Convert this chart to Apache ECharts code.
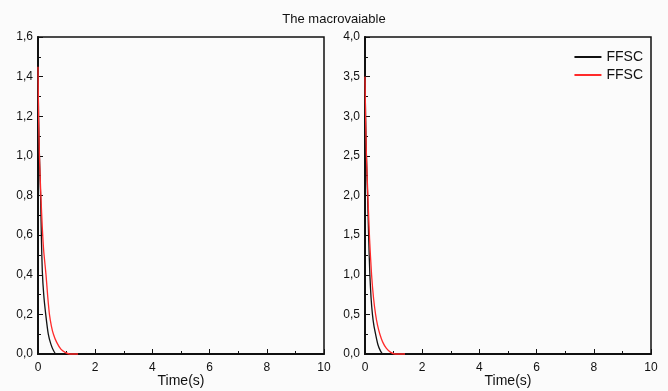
<!DOCTYPE html>
<html><head><meta charset="utf-8">
<script src="https://cdn.jsdelivr.net/npm/echarts@6/dist/echarts.min.js"></script>
<style>html,body{margin:0;padding:0;background:#fbfbfb}#c{width:668px;height:391px}</style>
</head><body><div id="c"></div>
<script>
var titleText = 'The macrovaiable';
var legendNames = ['FFSC', 'FFSC'];
var xLabelName = 'Time(s)';
// Left panel
var leftBlackT = [0, 0.02, 0.05, 0.09, 0.12, 0.15, 0.2, 0.27, 0.36, 0.45, 0.55, 0.63, 10];
var leftBlackV = [1.45, 1.2, 1.0, 0.8, 0.58, 0.42, 0.3, 0.2, 0.1, 0.05, 0.015, 0, 0];
var leftRedT = [0, 0.02, 0.05, 0.1, 0.15, 0.2, 0.28, 0.34, 0.4, 0.47, 0.54, 0.65, 0.8, 0.95, 1.1, 1.4];
var leftRedV = [1.45, 1.2, 1.0, 0.8, 0.64, 0.52, 0.4, 0.29, 0.2, 0.14, 0.1, 0.06, 0.025, 0.008, 0, 0];
// Right panel
var rightBlackT = [0, 0.02, 0.05, 0.09, 0.13, 0.17, 0.21, 0.26, 0.31, 0.37, 0.45, 0.54, 0.63, 10];
var rightBlackV = [3.5, 3.0, 2.5, 2.0, 1.45, 1.0, 0.72, 0.5, 0.36, 0.25, 0.12, 0.04, 0, 0];
var rightRedT = [0, 0.02, 0.05, 0.1, 0.16, 0.23, 0.3, 0.37, 0.44, 0.52, 0.62, 0.75, 0.9, 1.05, 1.4];
var rightRedV = [3.5, 3.0, 2.5, 2.0, 1.45, 1.0, 0.7, 0.5, 0.36, 0.25, 0.15, 0.07, 0.02, 0, 0];

function pairs(t, v) { return t.map(function (x, i) { return [x, v[i]]; }); }
function fmt(v) { return v.toFixed(1).replace('.', ','); }

var axisText = { color: '#111', fontFamily: 'Liberation Sans, Arial', fontSize: 12 };
function xAx(idx) {
  return {
    type: 'value', gridIndex: idx, min: 0, max: 10, interval: 2,
    name: xLabelName, nameLocation: 'middle', nameGap: 20, nameMoveOverlap: false,
    nameTextStyle: { color: '#111', fontFamily: 'Liberation Sans, Arial', fontSize: 14 },
    axisLine: { show: true, lineStyle: { color: '#111', width: 2 } },
    axisTick: { show: true, inside: true, length: 5, lineStyle: { color: '#111', width: 1 } },
    minorTick: { show: true, splitNumber: 2, length: 3, lineStyle: { color: '#111', width: 1 } },
    axisLabel: Object.assign({ margin: 8, formatter: function (v) { return String(v); } }, axisText),
    splitLine: { show: false }
  };
}
function yAx(idx, max, interval, minorSplit) {
  return {
    type: 'value', gridIndex: idx, min: 0, max: max, interval: interval,
    axisLine: { show: true, lineStyle: { color: '#111', width: 2 } },
    axisTick: { show: true, inside: true, length: 5, lineStyle: { color: '#111', width: 1 } },
    minorTick: { show: true, splitNumber: minorSplit, length: 3, lineStyle: { color: '#111', width: 1 } },
    axisLabel: Object.assign({ margin: 5, formatter: fmt }, axisText),
    splitLine: { show: false }
  };
}
function line(name, color, x, y, data, z) {
  return { name: name, type: 'line', xAxisIndex: x, yAxisIndex: y, data: data, showSymbol: false, clip: false,
    smooth: 0.2, symbol: 'none', lineStyle: { color: color, width: 1.3 }, itemStyle: { color: color }, z: z, zlevel: 1, animation: false };
}
var chart = echarts.init(document.getElementById('c'), null, { renderer: 'canvas' });
chart.setOption({
  backgroundColor: '#fbfbfb',
  animation: false,
  title: { text: titleText, left: 'center', top: 8,
    textStyle: { color: '#111', fontFamily: 'Liberation Sans, Arial', fontSize: 13, fontWeight: 'normal' } },
  legend: {
    orient: 'vertical', right: 20, top: 45, itemGap: 4, itemWidth: 27, itemHeight: 2, icon: 'rect',
    data: ['s1', 's2'], formatter: function (n) { return n === 's1' ? legendNames[0] : legendNames[1]; },
    textStyle: { color: '#111', fontFamily: 'Liberation Sans, Arial', fontSize: 14 }, selectedMode: false
  },
  grid: [
    { left: 38, right: 344, top: 37, bottom: 37, outerBoundsMode: 'none', containLabel: false, show: true, borderColor: '#111', borderWidth: 1.5, backgroundColor: 'transparent' },
    { left: 365, right: 17, top: 37, bottom: 37, outerBoundsMode: 'none', containLabel: false, show: true, borderColor: '#111', borderWidth: 1.5, backgroundColor: 'transparent' }
  ],
  xAxis: [xAx(0), xAx(1)],
  yAxis: [yAx(0, 1.6, 0.2, 2), yAx(1, 4.0, 0.5, 2)],
  series: [
    line('s1', '#111111', 0, 0, pairs(leftBlackT, leftBlackV), 2),
    line('s2', '#ff2a2a', 0, 0, pairs(leftRedT, leftRedV), 3),
    line('s1', '#111111', 1, 1, pairs(rightBlackT, rightBlackV), 2),
    line('s2', '#ff2a2a', 1, 1, pairs(rightRedT, rightRedV), 3)
  ]
});
</script></body></html>
